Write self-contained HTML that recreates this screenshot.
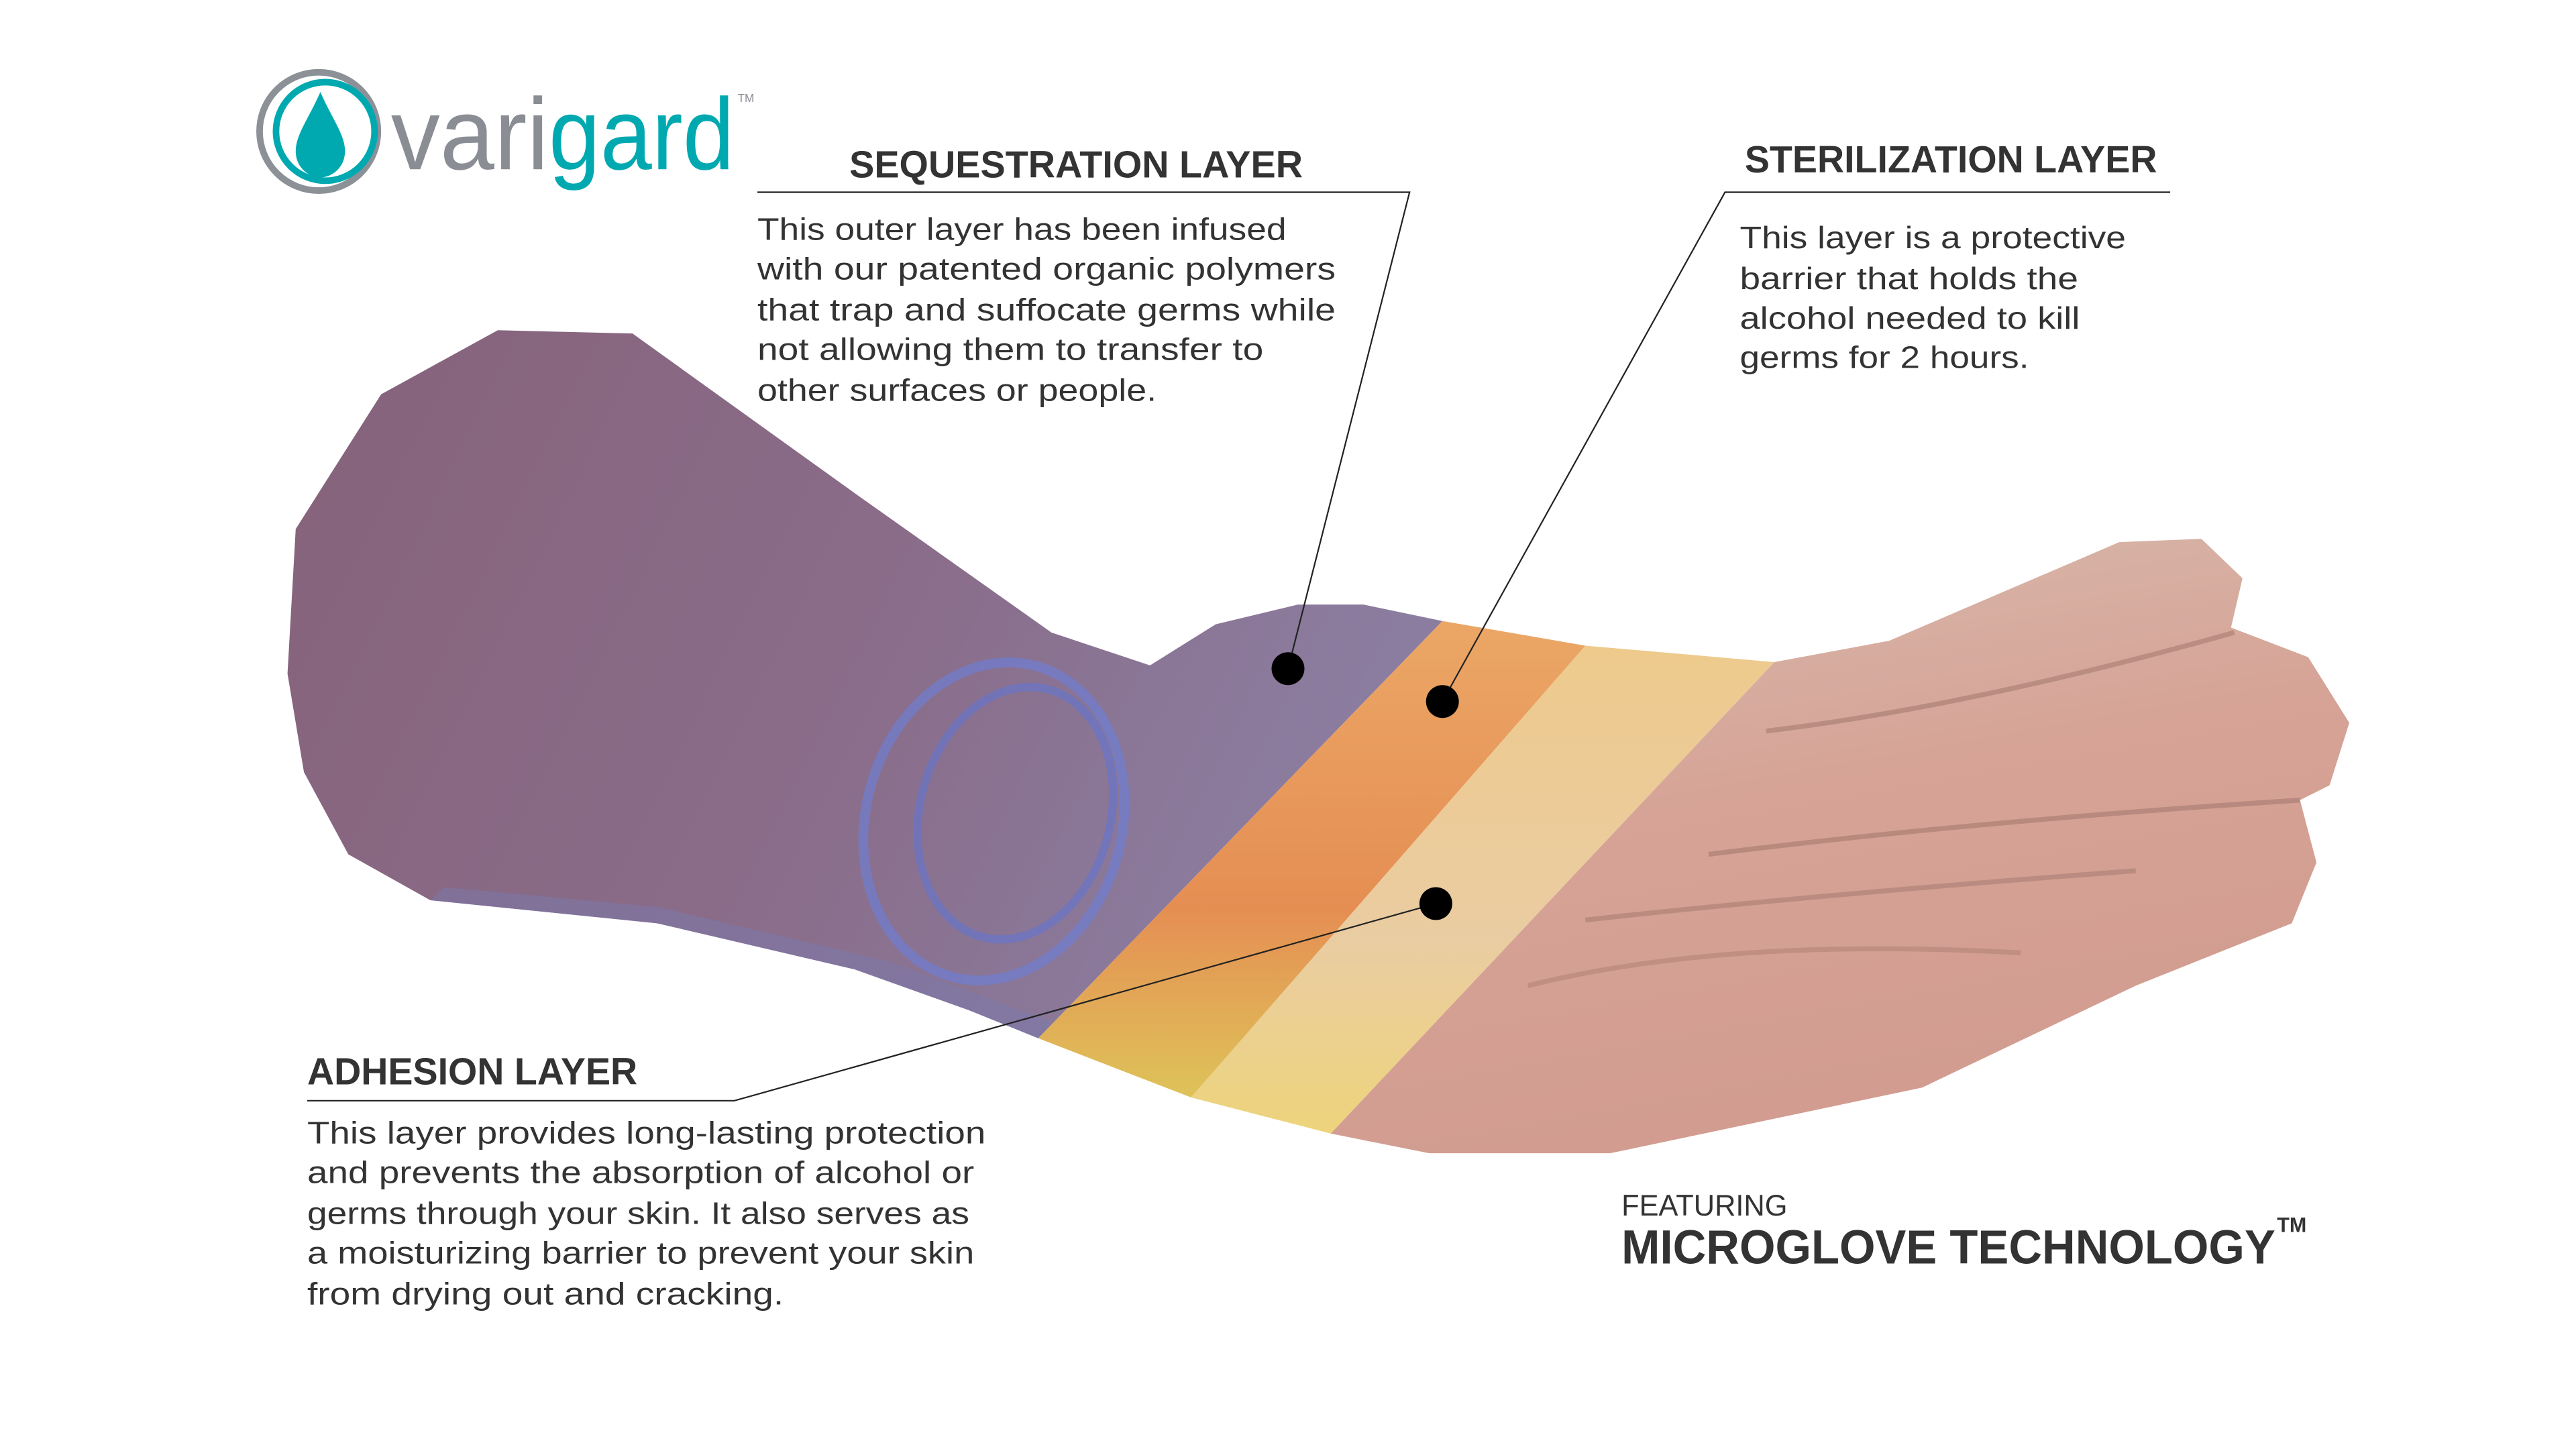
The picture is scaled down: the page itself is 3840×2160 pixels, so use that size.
<!DOCTYPE html>
<html><head><meta charset="utf-8"><style>
html,body{margin:0;padding:0;background:#fff;}
svg{display:block;}
text{font-family:"Liberation Sans",sans-serif;}
</style></head><body>
<svg width="3840" height="2160" viewBox="0 0 1568 882" xmlns="http://www.w3.org/2000/svg">
<defs>
<linearGradient id="arm" x1="0" y1="0" x2="1" y2="0.3">
<stop offset="0" stop-color="#86627a"/><stop offset="0.6" stop-color="#8a6d8a"/><stop offset="1" stop-color="#8b7da0"/>
</linearGradient>
<linearGradient id="org" x1="0" y1="0" x2="0" y2="1">
<stop offset="0" stop-color="#eaa25e"/><stop offset="0.6" stop-color="#e4884a"/><stop offset="1" stop-color="#dcc050"/>
</linearGradient>
<linearGradient id="yel" x1="0" y1="0" x2="0" y2="1">
<stop offset="0" stop-color="#ecc582"/><stop offset="0.6" stop-color="#e8c89a"/><stop offset="1" stop-color="#ecd070"/>
</linearGradient>
<linearGradient id="skin" x1="0" y1="0" x2="0.3" y2="1">
<stop offset="0" stop-color="#d8bcb0"/><stop offset="0.5" stop-color="#d6a396"/><stop offset="1" stop-color="#d29c90"/>
</linearGradient>
</defs>

<!-- forearm -->
<path d="M303,201 L385,203 L520,300 L640,385 L700,405 L740,380 L790,368 L830,368 L878,378 L632,632 L590,615 L520,590 L400,562 L262,548 L212,520 L185,470 L175,410 L180,322 L232,240 Z" fill="url(#arm)"/>
<path d="M262,548 L400,562 L520,590 L590,615 L632,632 L640,622 L540,585 L400,552 L270,540 Z" fill="#7a7aae" opacity="0.5"/>
<!-- blue ring -->
<ellipse cx="605" cy="500" rx="78" ry="98" transform="rotate(15 605 500)" fill="none" stroke="#6f7ed2" stroke-width="6" opacity="0.7"/>
<ellipse cx="618" cy="495" rx="58" ry="78" transform="rotate(15 618 495)" fill="none" stroke="#6675cc" stroke-width="5" opacity="0.65"/>
<!-- hand skin -->
<path d="M1080,403 L1150,390 L1290,330 L1340,328 L1365,352 L1358,382 L1405,400 L1430,440 L1418,478 L1400,487 L1410,525 L1395,562 L1300,600 L1170,662 L980,702 L870,702 L810,690 Z" fill="url(#skin)"/>
<!-- finger separations -->
<path d="M1075,445 Q1200,430 1360,385" stroke="#9c7268" stroke-width="3" fill="none" opacity="0.5"/>
<path d="M1040,520 Q1200,500 1400,487" stroke="#9c7268" stroke-width="3" fill="none" opacity="0.5"/>
<path d="M965,560 Q1100,545 1300,530" stroke="#9c7268" stroke-width="3" fill="none" opacity="0.45"/>
<path d="M930,600 Q1050,570 1230,580" stroke="#a87a6e" stroke-width="3" fill="none" opacity="0.45"/>
<!-- bands -->
<path d="M878,378 L965,393 L725,668 L632,632 Z" fill="url(#org)" opacity="0.95"/>
<path d="M965,393 L1080,403 L810,690 L725,668 Z" fill="url(#yel)" opacity="0.92"/>

<!-- connector lines -->
<g stroke="#222" fill="none">
<path d="M461,117 L858,117 L784,407" stroke-width="0.9"/>
<path d="M1321,117 L1050,117 L878,427" stroke-width="0.9"/>
<path d="M187,670 L447,670 L874,550" stroke-width="0.9"/>
</g>
<circle cx="784" cy="407" r="10" fill="#000"/>
<circle cx="878" cy="427" r="10" fill="#000"/>
<circle cx="874" cy="550" r="10" fill="#000"/>

<!-- logo -->
<circle cx="194" cy="80" r="36" fill="none" stroke="#8c9097" stroke-width="4"/>
<circle cx="198" cy="80" r="30" fill="none" stroke="#00a9b0" stroke-width="4"/>
<path d="M195,56 C188,72 180,82 180,92 C180,102 188,108 195,108 C202,108 210,102 210,92 C210,82 202,72 195,56 Z" fill="#00a9b0"/>
<text x="238" y="103" font-size="62" fill="#8a8d94" textLength="96" lengthAdjust="spacingAndGlyphs">vari</text>
<text x="334" y="103" font-size="62" fill="#00a9b0" textLength="113" lengthAdjust="spacingAndGlyphs">gard</text>
<text x="449" y="62" font-size="7" fill="#8a8d94">TM</text>

<!-- texts -->
<g fill="#333">
<text x="517" y="108" font-size="23" font-weight="bold" textLength="276" lengthAdjust="spacingAndGlyphs">SEQUESTRATION LAYER</text>
<g font-size="19">
<text x="461" y="146" textLength="322" lengthAdjust="spacingAndGlyphs">This outer layer has been infused</text>
<text x="461" y="170" textLength="352" lengthAdjust="spacingAndGlyphs">with our patented organic polymers</text>
<text x="461" y="195" textLength="352" lengthAdjust="spacingAndGlyphs">that trap and suffocate germs while</text>
<text x="461" y="219" textLength="308" lengthAdjust="spacingAndGlyphs">not allowing them to transfer to</text>
<text x="461" y="244" textLength="243" lengthAdjust="spacingAndGlyphs">other surfaces or people.</text>
</g>
<text x="1062" y="105" font-size="23" font-weight="bold" textLength="251" lengthAdjust="spacingAndGlyphs">STERILIZATION LAYER</text>
<g font-size="19">
<text x="1059" y="151" textLength="235" lengthAdjust="spacingAndGlyphs">This layer is a protective</text>
<text x="1059" y="176" textLength="206" lengthAdjust="spacingAndGlyphs">barrier that holds the</text>
<text x="1059" y="200" textLength="207" lengthAdjust="spacingAndGlyphs">alcohol needed to kill</text>
<text x="1059" y="224" textLength="176" lengthAdjust="spacingAndGlyphs">germs for 2 hours.</text>
</g>
<text x="187" y="660" font-size="23" font-weight="bold" textLength="201" lengthAdjust="spacingAndGlyphs">ADHESION LAYER</text>
<g font-size="19">
<text x="187" y="696" textLength="413" lengthAdjust="spacingAndGlyphs">This layer provides long-lasting protection</text>
<text x="187" y="720" textLength="406" lengthAdjust="spacingAndGlyphs">and prevents the absorption of alcohol or</text>
<text x="187" y="745" textLength="403" lengthAdjust="spacingAndGlyphs">germs through your skin. It also serves as</text>
<text x="187" y="769" textLength="406" lengthAdjust="spacingAndGlyphs">a moisturizing barrier to prevent your skin</text>
<text x="187" y="794" textLength="290" lengthAdjust="spacingAndGlyphs">from drying out and cracking.</text>
</g>
<text x="987" y="740" font-size="18" textLength="101" lengthAdjust="spacingAndGlyphs">FEATURING</text>
<text x="987" y="769" font-size="29" font-weight="bold" textLength="398" lengthAdjust="spacingAndGlyphs">MICROGLOVE TECHNOLOGY</text>
<text x="1386" y="750" font-size="13" font-weight="bold" textLength="18" lengthAdjust="spacingAndGlyphs">TM</text>
</g>
</svg>
</body></html>
